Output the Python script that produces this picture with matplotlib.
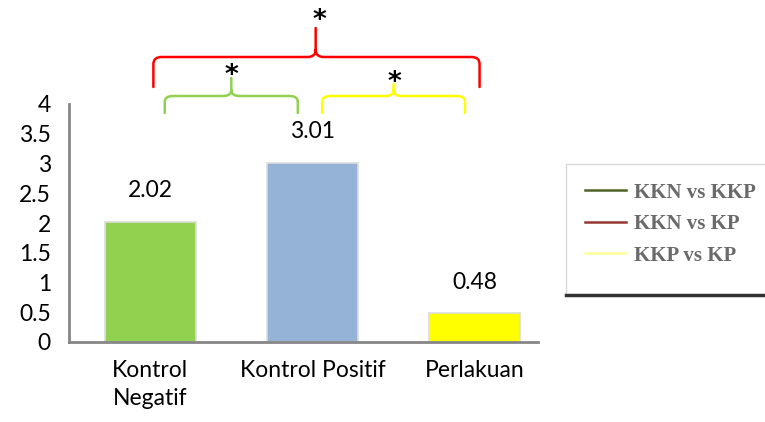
import matplotlib.pyplot as plt
from matplotlib.path import Path
from matplotlib.patches import PathPatch, Rectangle
from matplotlib.lines import Line2D

categories = ["Kontrol\nNegatif", "Kontrol Positif", "Perlakuan"]
values = [2.02, 3.01, 0.48]
bar_colors = ["#92D050", "#95B3D7", "#FFFF00"]
yticks = [0, 0.5, 1, 1.5, 2, 2.5, 3, 3.5, 4]
ytick_labels = ["0", "0.5", "1", "1.5", "2", "2.5", "3", "3.5", "4"]
legend_labels = ["KKN vs KKP", "KKN vs KP", "KKP vs KP"]
legend_colors = ["#4F6228", "#953735", "#FFFF99"]

FONT = "Lato"
FS = 16.5
fig = plt.figure(figsize=(7.65, 4.22), dpi=100)
ax = fig.add_axes([69/765, 80/422, (538-69)/765, (342-104)/422])

x = list(range(len(categories)))
ax.bar(x, values, width=0.56, color=bar_colors, edgecolor="#DDDDDD", linewidth=1.2, zorder=2)
for xi, v in zip(x, values):
    ax.text(xi, v + 0.35, f"{v:.2f}", ha="center", va="bottom", fontsize=FS, family=FONT)

ax.set_xlim(-0.5, 2.39)
ax.set_ylim(0, 4)
ax.set_yticks(yticks)
ax.set_yticklabels(ytick_labels, fontsize=FS, family=FONT)
ax.set_xticks(x)
ax.set_xticklabels(categories, fontsize=FS, family=FONT, linespacing=1.4)
ax.tick_params(axis="y", length=0, pad=13)
ax.tick_params(axis="x", length=0, pad=13)
for s in ["top", "right"]:
    ax.spines[s].set_visible(False)
for s in ["left", "bottom"]:
    ax.spines[s].set_color("#868686")
    ax.spines[s].set_linewidth(2)


def brace(x0, x1, xm, y, ybot, ytop, color, r=0.05, ry=0.25):
    verts = [
        (x0, ybot), (x0, y - ry), (x0, y), (x0 + r, y),
        (xm - r, y), (xm, y), (xm, y + ry),
        (xm, ytop),
        (xm, y + ry), (xm, y), (xm + r, y),
        (x1 - r, y), (x1, y), (x1, y - ry), (x1, ybot),
    ]
    codes = [Path.MOVETO, Path.LINETO, Path.CURVE3, Path.CURVE3,
             Path.LINETO, Path.CURVE3, Path.CURVE3,
             Path.LINETO,
             Path.MOVETO, Path.CURVE3, Path.CURVE3,
             Path.LINETO, Path.CURVE3, Path.CURVE3, Path.LINETO]
    p = PathPatch(Path(verts, codes), fill=False, edgecolor=color, lw=1.8,
                  clip_on=False, capstyle="round", joinstyle="round")
    ax.add_patch(p)


def px(v):
    return (342 - v) / 59.5

STAR = dict(ha="center", va="center", fontsize=19, fontweight="bold",
            family="DejaVu Sans", clip_on=False)
brace(0.02, 2.03, 1.02, px(57), px(87), px(28), "#FF0000", ry=0.12)
ax.text(1.045, px(21), "*", **STAR)
brace(0.09, 0.91, 0.50, px(96), px(113), px(78), "#92D050", ry=0.1)
ax.text(0.50, px(76), "*", **STAR)
brace(1.06, 1.94, 1.50, px(96), px(113), px(84), "#FFFF00", ry=0.1)
ax.text(1.505, px(83), "*", **STAR)

# legend box
fig.patches.append(Rectangle((566/765, (422-295)/422), 205/765, 131/422, transform=fig.transFigure,
                             facecolor="white", edgecolor="#D9D9D9", lw=1.0))
fig.add_artist(Line2D([566/765, 1.0], [(422-295)/422]*2, transform=fig.transFigure,
                      color="#333333", lw=2.5))
handles = [Line2D([0], [0], color=c, lw=1.8) for c in legend_colors]
leg = fig.legend(handles, legend_labels, loc="upper left", bbox_to_anchor=(566/765, (422-164)/422),
                 frameon=False, prop={"family": "Liberation Serif", "size": 15, "weight": "bold"},
                 handlelength=2.0, labelspacing=0.55, handletextpad=0.35)
for t in leg.get_texts():
    t.set_color("#6A6A6A")

fig.savefig("out.png", dpi=100)
